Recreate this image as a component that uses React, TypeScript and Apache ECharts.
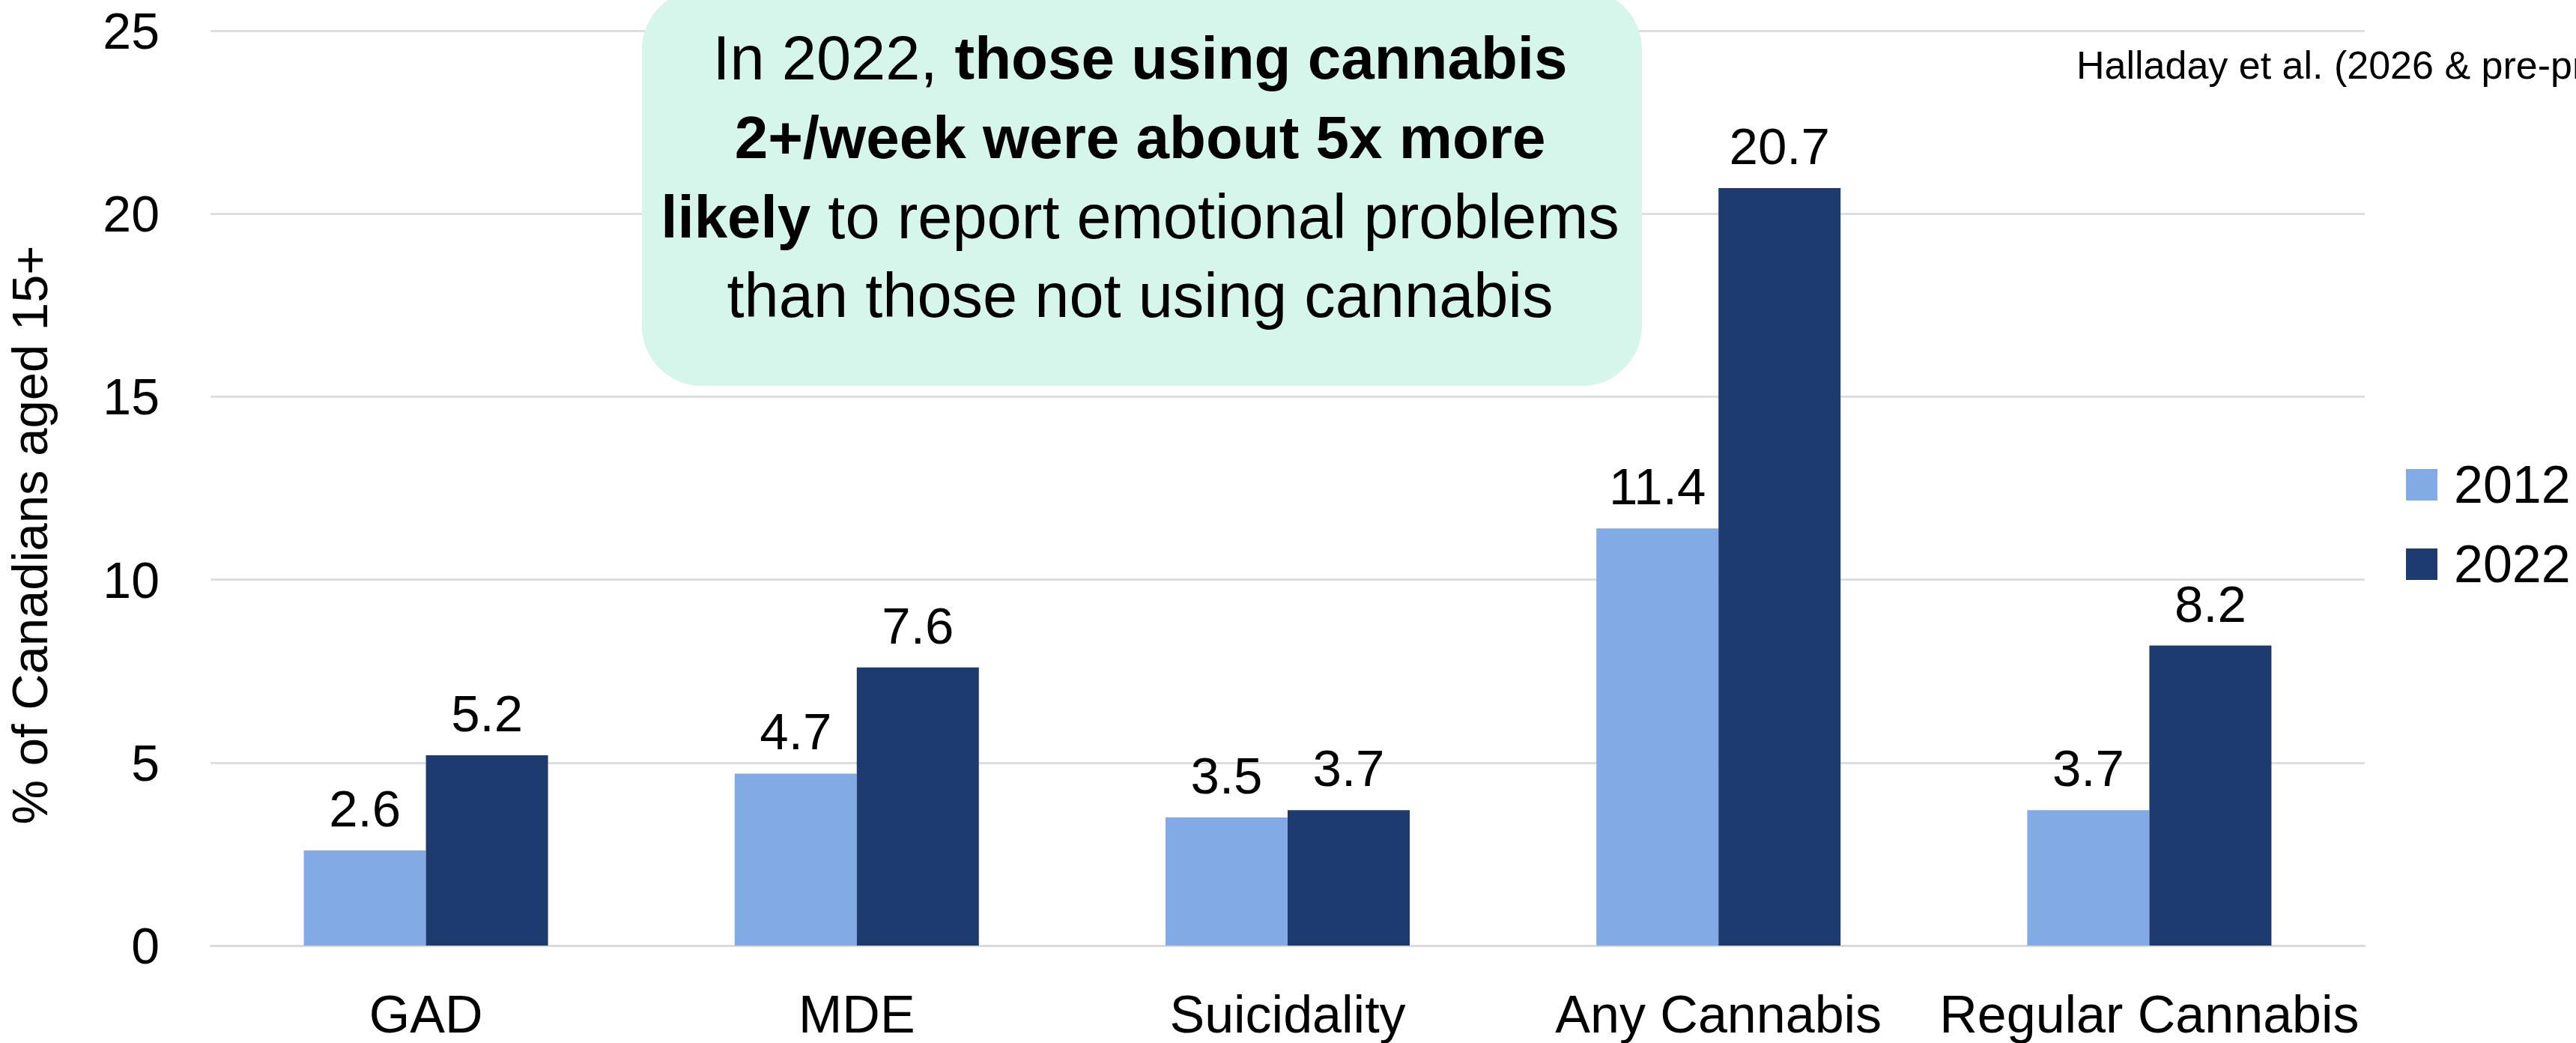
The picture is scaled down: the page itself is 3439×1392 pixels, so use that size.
import React, { useEffect, useRef } from "react";
import * as echarts from "echarts";

const categories = ["GAD", "MDE", "Suicidality", "Any Cannabis", "Regular Cannabis"];
const series2012 = [2.6, 4.7, 3.5, 11.4, 3.7];
const series2022 = [5.2, 7.6, 3.7, 20.7, 8.2];
const seriesNames = ["2012", "2022"];
const yTicks = { min: 0, max: 25, interval: 5 };
const yAxisTitle = "% of Canadians aged 15+";
const sourceText = "Halladay et al. (2026 & pre-print)";
const noteLines = [
  [["n", "In 2022, "], ["b", "those using cannabis"]],
  [["b", "2+/week were about 5x more"]],
  [["b", "likely"], ["n", " to report emotional problems"]],
  [["n", "than those not using cannabis"]],
];

const FONT = "'Liberation Sans', Arial, Helvetica, sans-serif";
const LIGHT = "#82AAE4";
const DARK = "#1E3B70";
const GRID = "#D9D9D9";

export default function App() {
  const ref = useRef<HTMLDivElement>(null);
  useEffect(() => {
    if (!ref.current) return;
    const chart = echarts.init(ref.current, null, { renderer: "svg" });
    const lineBaselines = [105, 211, 317, 422];
    const noteTexts = noteLines.map((line, i) => ({
      type: "text",
      z: 110,
      x: 1522,
      y: lineBaselines[i] - 28,
      style: {
        text: line.map(([k, t]) => `{${k}|${t}}`).join(""),
        align: "center",
        verticalAlign: "middle",
        rich: {
          n: { fontSize: 83, fontFamily: FONT, fontWeight: "normal", fill: "#000", align: "center" },
          b: { fontSize: 80, fontFamily: FONT, fontWeight: "bold", fill: "#000", align: "center" },
        },
      },
    }));
    const labelStyle = {
      show: true,
      position: "top",
      distance: 21,
      fontSize: 69,
      color: "#000",
      fontFamily: FONT,
      formatter: (p: any) => Number(p.value).toFixed(1),
    };
    const option: any = {
      animation: false,
      backgroundColor: "#ffffff",
      textStyle: { fontFamily: FONT },
      grid: { left: 281, right: 282, top: 41, bottom: 130, containLabel: false, outerBoundsMode: "none" },
      legend: {
        orient: "vertical",
        left: 3212,
        top: 612,
        padding: 0,
        itemWidth: 42,
        itemHeight: 42,
        itemGap: 36,
        icon: "rect",
        data: seriesNames,
        textStyle: { fontSize: 70, color: "#000", fontFamily: FONT, padding: [0, 0, 0, 17] },
      },
      xAxis: {
        type: "category",
        data: categories,
        axisTick: { show: false },
        axisLine: { show: true, lineStyle: { color: GRID, width: 2.5 } },
        axisLabel: { fontSize: 70, color: "#000", fontFamily: FONT, margin: 57, interval: 0 },
      },
      yAxis: {
        type: "value",
        min: yTicks.min,
        max: yTicks.max,
        interval: yTicks.interval,
        axisLine: { show: false },
        axisTick: { show: false },
        splitLine: { lineStyle: { color: GRID, width: 2.5 } },
        axisLabel: { fontSize: 68, color: "#000", fontFamily: FONT, margin: 68 },
      },
      series: [
        {
          name: seriesNames[0],
          type: "bar",
          data: series2012,
          barWidth: 163,
          barGap: "0%",
          itemStyle: { color: LIGHT },
          label: labelStyle,
        },
        {
          name: seriesNames[1],
          type: "bar",
          data: series2022,
          barWidth: 163,
          barGap: "0%",
          itemStyle: { color: DARK },
          label: labelStyle,
        },
      ],
      graphic: [
        {
          type: "rect",
          z: 100,
          shape: { x: 857, y: -14, width: 1335, height: 529, r: 80 },
          style: { fill: "#D6F6EC" },
        },
        ...noteTexts,
        {
          type: "text",
          z: 110,
          x: 39,
          y: 714,
          rotation: Math.PI / 2,
          style: {
            text: yAxisTitle,
            fontSize: 67,
            fontFamily: FONT,
            fill: "#000",
            align: "center",
            verticalAlign: "middle",
          },
        },
        {
          type: "text",
          z: 110,
          x: 2772,
          y: 87,
          style: {
            text: sourceText,
            fontSize: 52,
            fontFamily: FONT,
            fill: "#000",
            align: "left",
            verticalAlign: "middle",
          },
        },
      ],
    };
    chart.setOption(option);
    return () => chart.dispose();
  }, []);
  return (
    <div
      ref={ref}
      style={{ position: "fixed", left: 0, top: 0, width: 3439, height: 1392, background: "#fff" }}
    />
  );
}
